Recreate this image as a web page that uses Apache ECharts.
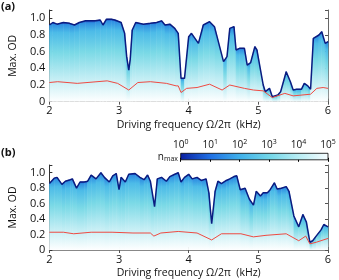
<!DOCTYPE html>
<html><head><meta charset="utf-8">
<script src="https://cdn.jsdelivr.net/npm/echarts@6/dist/echarts.min.js"></script>
<style>html,body{margin:0;padding:0;background:#fff}#c{width:339px;height:280px}</style>
</head><body><div id="c"></div>
<script>
// Panel (a)
const freqA = [2.0,2.05,2.11,2.20,2.29,2.36,2.43,2.52,2.66,2.73,2.77,2.82,2.89,2.94,3.03,3.08,3.11,3.14,3.16,3.19,3.24,3.35,3.45,3.54,3.61,3.66,3.73,3.80,3.85,3.89,3.94,4.00,4.04,4.14,4.21,4.30,4.37,4.50,4.55,4.59,4.65,4.68,4.73,4.80,4.84,4.89,4.95,4.98,5.07,5.10,5.16,5.20,5.28,5.32,5.40,5.46,5.50,5.55,5.62,5.66,5.71,5.75,5.79,5.87,5.91,5.96,6.00];
const odA   = [0.92,0.95,0.93,0.95,0.94,0.92,0.95,0.97,0.97,0.98,0.92,0.99,0.99,0.98,0.95,0.82,0.54,0.38,0.50,0.86,0.95,0.93,0.94,0.95,0.97,0.92,0.93,0.88,0.82,0.28,0.28,0.78,0.82,0.70,0.92,0.96,0.90,0.48,0.54,0.88,0.90,0.62,0.64,0.64,0.44,0.47,0.66,0.62,0.20,0.12,0.16,0.06,0.08,0.12,0.36,0.24,0.14,0.15,0.15,0.22,0.19,0.15,0.76,0.80,0.84,0.70,0.72];
const redFreqA = [2.0,2.12,2.4,2.83,2.98,3.14,3.27,3.45,3.68,3.82,3.85,3.89,3.97,4.12,4.30,4.48,4.59,4.80,4.93,5.07,5.20,5.38,5.50,5.75,5.84,5.93,6.0];
const redA     = [0.23,0.24,0.22,0.25,0.22,0.14,0.23,0.24,0.22,0.19,0.19,0.11,0.16,0.17,0.21,0.14,0.20,0.16,0.14,0.13,0.05,0.10,0.07,0.09,0.16,0.17,0.16];
// Panel (b)
const freqB = [2.0,2.07,2.11,2.18,2.23,2.30,2.33,2.39,2.44,2.50,2.55,2.60,2.67,2.74,2.79,2.86,2.91,2.96,3.0,3.03,3.09,3.14,3.23,3.30,3.36,3.41,3.45,3.51,3.55,3.61,3.68,3.73,3.80,3.85,3.89,3.94,4.0,4.05,4.12,4.18,4.25,4.29,4.33,4.38,4.42,4.47,4.54,4.59,4.65,4.69,4.74,4.81,4.87,4.93,4.97,5.03,5.07,5.13,5.17,5.23,5.27,5.33,5.40,5.44,5.51,5.58,5.64,5.69,5.74,5.78,5.83,5.90,5.94,6.0];
const odB   = [0.86,0.93,0.94,0.85,0.89,0.91,0.92,0.80,0.88,0.88,0.89,0.97,0.92,1.0,0.94,0.88,0.96,0.99,0.78,0.94,0.88,0.98,0.99,0.94,0.91,0.97,0.89,0.56,0.92,0.94,0.89,0.95,0.98,1.0,0.88,0.94,0.98,0.92,0.94,0.90,0.92,0.74,0.34,0.76,0.89,0.86,0.90,0.92,0.95,0.96,0.78,0.80,0.66,0.58,0.76,0.70,0.74,0.74,0.78,0.87,0.79,0.80,0.82,0.76,0.44,0.30,0.46,0.36,0.10,0.12,0.18,0.26,0.33,0.30];
const redFreqB = [2.0,2.2,2.35,2.6,2.9,3.2,3.45,3.5,3.6,3.85,4.12,4.33,4.47,4.75,4.93,5.11,5.40,5.58,5.68,5.74,5.83,6.0];
const redB     = [0.23,0.23,0.21,0.23,0.23,0.22,0.22,0.18,0.22,0.24,0.22,0.13,0.21,0.21,0.17,0.19,0.21,0.12,0.18,0.08,0.10,0.15];
// Axis ticks
const xTicks = [2,3,4,5,6];
const yTicks = [0,0.2,0.4,0.6,0.8,1.0];
const cbExponents = [0,1,2,3,4,5];

const FONT = "'Open Sans', 'DejaVu Sans', sans-serif";
const fillStops = [
  {offset:0, color:'#1a40c2'},
  {offset:0.03, color:'#2f8fe2'},
  {offset:0.13, color:'#4cbbe8'},
  {offset:0.38, color:'#7ad9e6'},
  {offset:0.68, color:'#bdecf3'},
  {offset:1, color:'#ffffff'}
];
function fillSeries(fr, od, gi){
  return {
    type:'custom', xAxisIndex:gi*2, yAxisIndex:gi*2, clip:true, z:1,
    data: fr.map((f,i)=>[f, od[i]]),
    renderItem:(params, api)=>{
      const i = params.dataIndex;
      if (i >= fr.length-1) return null;
      const p1 = api.coord([fr[i], od[i]]);
      const p2 = api.coord([fr[i+1], od[i+1]]);
      const b2 = api.coord([fr[i+1], 0]);
      const b1 = api.coord([fr[i], 0]);
      const grad = new echarts.graphic.LinearGradient(0,0,0,1,fillStops);
      return {type:'polygon', shape:{points:[p1,p2,b2,b1]},
        style:{fill:grad, stroke:grad, lineWidth:0.6}};
    }
  };
}
function lineSeries(fr, od, gi, color, w){
  return {type:'line', xAxisIndex:gi*2, yAxisIndex:gi*2, data: fr.map((f,i)=>[f,od[i]]),
    symbol:'none', lineStyle:{color:color, width:w}, z:3, animation:false};
}
function xAxes(gi){
  return [{
    gridIndex:gi, type:'value', min:2, max:6, interval:1, position:'bottom',
    axisLine:{show:true, lineStyle:{color:'#333', width:1}},
    axisTick:{show:true, inside:true, length:3, lineStyle:{color:'#333'}},
    axisLabel:{fontSize:11, color:'#111', margin:4, fontFamily:FONT},
    splitLine:{show:false},
    name:'Driving frequency Ω/2π  (kHz)', nameLocation:'middle', nameGap:18,
    nameTextStyle:{fontSize:10.5, color:'#111', fontFamily:FONT}
  },{
    gridIndex:gi, type:'value', min:2, max:6, interval:1, position:'top',
    axisLine:{show:true, lineStyle:{color:'#888', width:1}},
    axisTick:{show:true, inside:true, length:3, lineStyle:{color:'#555'}},
    axisLabel:{show:false}, splitLine:{show:false}
  }];
}
function yAxes(gi){
  return [{
    gridIndex:gi, type:'value', min:0, max:1.1, interval:0.2, position:'left',
    axisLine:{show:true, lineStyle:{color:'#333', width:1}},
    axisTick:{show:true, inside:true, length:3, lineStyle:{color:'#333'}},
    axisLabel:{fontSize:11, color:'#111', margin:4, fontFamily:FONT,
      formatter:v=> v>1.01 ? '' : (v===0 ? '0' : v.toFixed(1))},
    splitLine:{show:false},
    name:'Max. OD', nameLocation:'middle', nameGap:23, nameRotate:90,
    nameTextStyle:{fontSize:10.5, color:'#111', fontFamily:FONT}
  },{
    gridIndex:gi, type:'value', min:0, max:1.1, interval:0.2, position:'right',
    axisLine:{show:true, lineStyle:{color:'#666', width:1}},
    axisTick:{show:true, inside:true, length:3, lineStyle:{color:'#555'}},
    axisLabel:{show:false}, splitLine:{show:false}
  }];
}
const cbStops = [
  {offset:0, color:'#0a1fa0'},
  {offset:0.2, color:'#1f6fe4'},
  {offset:0.4, color:'#3fb0ea'},
  {offset:0.6, color:'#72d6e8'},
  {offset:0.8, color:'#b8edf4'},
  {offset:1, color:'#f8fdff'}
];
const chart = echarts.init(document.getElementById('c'), null, {renderer:'canvas'});
chart.setOption({
  animation:false,
  backgroundColor:'#fff',
  grid:[
    {left:34.5, right:11, top:10, height:91.7},
    {left:34.5, right:11, top:165, height:91.7},
    {left:180.7, right:11, top:153.3, height:6.5}
  ],
  xAxis:[...xAxes(0), ...xAxes(1),
    {gridIndex:2, type:'value', min:0, max:5, interval:1, position:'top',
      axisLine:{show:false}, axisTick:{show:true, inside:true, length:2, lineStyle:{color:'#000'}},
      axisLabel:{show:true, margin:2, fontFamily:FONT, color:'#111',
        formatter:v=>'{b|10}{s|'+v+'}',
        rich:{b:{fontSize:10, fontFamily:FONT, color:'#111'}, s:{fontSize:7, fontFamily:FONT, color:'#111', padding:[0,0,6,0]}}},
      splitLine:{show:false}},
    {gridIndex:2, type:'value', min:0, max:5, interval:1, position:'bottom',
      axisLine:{show:false}, axisTick:{show:true, inside:true, length:2, lineStyle:{color:'#000'}},
      axisLabel:{show:false}, splitLine:{show:false}}
  ],
  yAxis:[...yAxes(0), ...yAxes(1),
    {gridIndex:2, type:'value', min:0, max:1, show:false},
    {gridIndex:2, type:'value', min:0, max:1, show:false}
  ],
  series:[
    fillSeries(freqA, odA, 0),
    lineSeries(freqA, odA, 0, '#0b1c80', 1.5),
    lineSeries(redFreqA, redA, 0, '#ef4a42', 1),
    fillSeries(freqB, odB, 1),
    lineSeries(freqB, odB, 1, '#0b1c80', 1.5),
    lineSeries(redFreqB, redB, 1, '#ef4a42', 1),
    {type:'custom', xAxisIndex:4, yAxisIndex:4, data:[[cbExponents[0], cbExponents[cbExponents.length-1]]], z:1,
      renderItem:(params, api)=>{
        const a = api.coord([api.value(0), 1]);
        const b = api.coord([api.value(1), 0]);
        return {type:'rect', shape:{x:a[0], y:a[1], width:b[0]-a[0], height:b[1]-a[1]},
          style:{fill:new echarts.graphic.LinearGradient(0,0,1,0,cbStops), stroke:'#000', lineWidth:0.8}};
      }}
  ],
  graphic:[
    {type:'text', left:1, top:1, style:{text:'(a)', fontSize:11, fontWeight:'bold', fontFamily:FONT, fill:'#111'}},
    {type:'text', left:1, top:147, style:{text:'(b)', fontSize:11, fontWeight:'bold', fontFamily:FONT, fill:'#111'}},
    {type:'text', x:178, y:157, style:{text:'{n|n}{s|max}', align:'right', verticalAlign:'middle',
      rich:{n:{fontSize:10, fontFamily:FONT, fill:'#111'}, s:{fontSize:7, fontFamily:FONT, fill:'#111', padding:[4,0,0,0]}}}}
  ]
});
</script></body></html>
